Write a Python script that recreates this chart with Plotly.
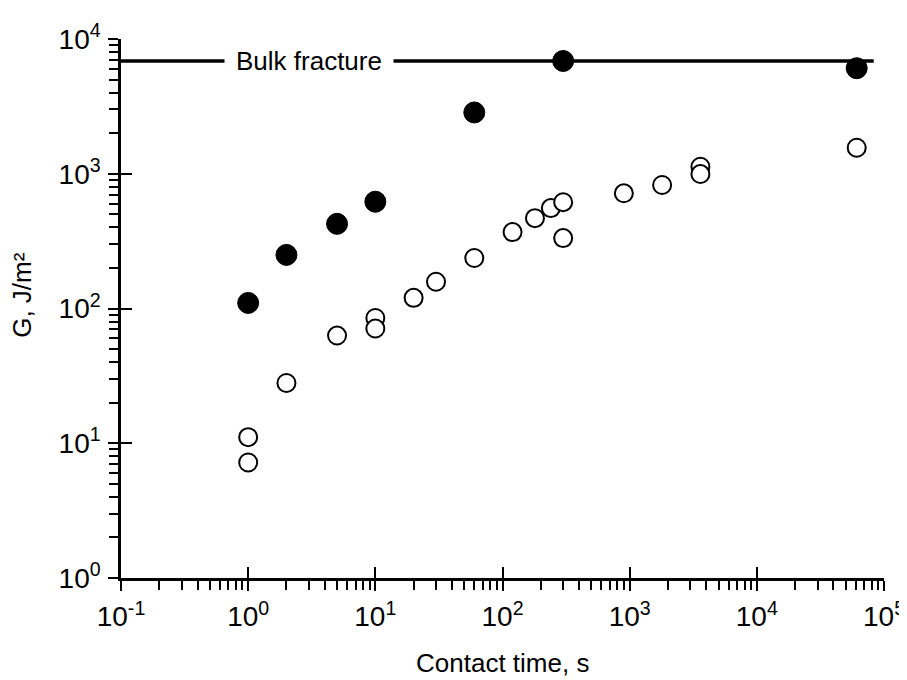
import math
import plotly.graph_objects as go

# open symbols
open_time = [1, 1, 2, 5, 10, 10, 20, 30, 60, 120, 180, 240, 300, 300, 900, 1800, 3600, 3600, 61000]
open_g = [11.1, 7.2, 28, 63, 85, 71, 120, 158, 237, 369, 468, 556, 615, 333, 716, 825, 1127, 995, 1560]

# filled symbols
filled_time = [1, 2, 5, 10, 60, 300, 61000]
filled_g = [110, 250, 425, 620, 2850, 6870, 6070]

# bulk fracture level
bulk_time = [0.1, 83000]
bulk_g = [6870, 6870]
bulk_label_time = 3

x_tick_vals = [0.1, 1, 10, 100, 1000, 10000, 100000]
x_tick_text = ["10<sup>-1</sup>", "10<sup>0</sup>", "10<sup>1</sup>", "10<sup>2</sup>",
               "10<sup>3</sup>", "10<sup>4</sup>", "10<sup>5</sup>"]
y_tick_vals = [1, 10, 100, 1000, 10000]
y_tick_text = ["10<sup>0</sup>", "10<sup>1</sup>", "10<sup>2</sup>", "10<sup>3</sup>", "10<sup>4</sup>"]

FONT = "Liberation Sans, Arial, sans-serif"
TICK_FONT = dict(family=FONT, size=28, color="black")

fig = go.Figure()

# bulk fracture line (on the overlay axes so they get drawn)
fig.add_trace(go.Scatter(
    x=bulk_time, y=bulk_g, mode="lines",
    line=dict(color="black", width=3.5),
    xaxis="x2", yaxis="y2", hoverinfo="skip",
))

fig.add_trace(go.Scatter(
    x=open_time, y=open_g, mode="markers",
    marker=dict(size=18, color="white", line=dict(color="black", width=2)),
))

fig.add_trace(go.Scatter(
    x=filled_time, y=filled_g, mode="markers",
    marker=dict(size=21, color="black", line=dict(color="black", width=1)),
))

fig.add_annotation(
    x=math.log10(bulk_label_time), y=math.log10(bulk_g[0]),
    xref="x", yref="y", text="Bulk fracture", showarrow=False,
    font=dict(family=FONT, size=26, color="black"),
    bgcolor="white", borderpad=11,
)

# axis titles
fig.add_annotation(
    x=0.5, y=-0.158, xref="paper", yref="paper", yanchor="middle",
    text="Contact time, s", showarrow=False,
    font=dict(family=FONT, size=26, color="black"),
)
fig.add_annotation(
    x=-0.13, y=0.525, xref="paper", yref="paper", xanchor="center", yanchor="middle",
    text="G, J/m²", textangle=-90, showarrow=False,
    font=dict(family=FONT, size=26, color="black"),
)

# the page body adds an 8 px margin, so the figure is 8 px smaller each way
fig.update_layout(
    width=899, height=672,
    margin=dict(l=113, r=23, t=31, b=102),
    paper_bgcolor="white", plot_bgcolor="white",
    showlegend=False,
    # inside half of the major ticks
    xaxis2=dict(
        type="log", range=[-1, 5], overlaying="x", anchor="y", side="bottom",
        showgrid=False, zeroline=False, showline=False, automargin=False,
        tickmode="array", tickvals=x_tick_vals, showticklabels=False,
        ticks="inside", ticklen=11, tickwidth=2, tickcolor="black",
    ),
    yaxis2=dict(
        type="log", range=[0, 4], overlaying="y", anchor="x", side="left",
        showgrid=False, zeroline=False, showline=False, automargin=False,
        tickmode="array", tickvals=y_tick_vals, showticklabels=False,
        ticks="inside", ticklen=11, tickwidth=2, tickcolor="black",
    ),
)

fig.layout.xaxis.update(
    type="log", range=[-1, 5], showgrid=False, zeroline=False, automargin=False,
    showline=True, linecolor="black", linewidth=2.5,
    ticks="outside", ticklen=10, tickwidth=2, tickcolor="black",
    tickmode="array", tickvals=x_tick_vals, ticktext=x_tick_text,
    tickfont=TICK_FONT, ticklabelstandoff=2,
    minor=dict(ticks="outside", ticklen=9, tickwidth=2, tickcolor="black", dtick="D1"),
)
fig.layout.yaxis.update(
    type="log", range=[0, 4], showgrid=False, zeroline=False, automargin=False,
    showline=True, linecolor="black", linewidth=2.5,
    ticks="outside", ticklen=10, tickwidth=2, tickcolor="black",
    tickmode="array", tickvals=y_tick_vals, ticktext=y_tick_text,
    tickfont=TICK_FONT, ticklabelstandoff=2,
    minor=dict(ticks="outside", ticklen=9, tickwidth=2, tickcolor="black", dtick="D1"),
)

fig.write_html("out.html")
